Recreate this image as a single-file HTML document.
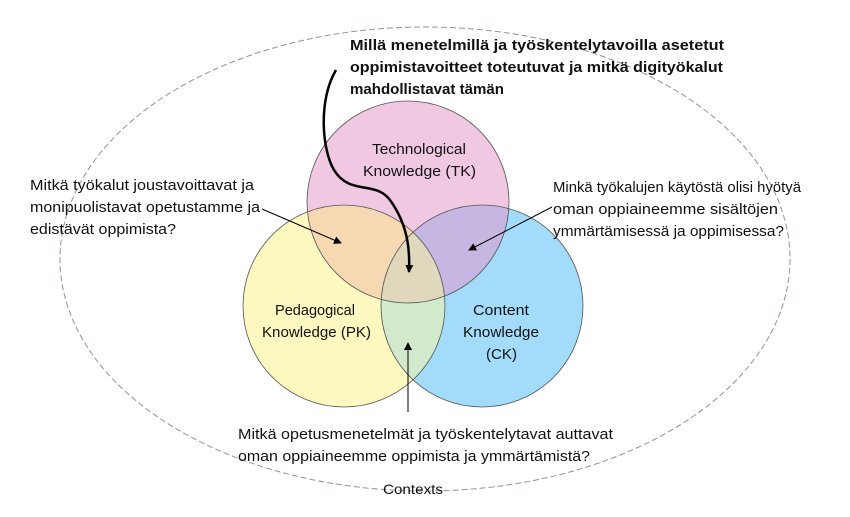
<!DOCTYPE html>
<html><head><meta charset="utf-8"><style>html,body{margin:0;padding:0;background:#fff}svg{display:block}text{font-family:"Liberation Sans",sans-serif;font-size:15px;fill:#111}</style></head>
<body>
<svg width="850" height="517" viewBox="0 0 850 517" xmlns="http://www.w3.org/2000/svg">
<defs>
<clipPath id="tk"><circle cx="408" cy="202" r="101"/></clipPath>
<clipPath id="pk"><circle cx="344" cy="306" r="101"/></clipPath>
<clipPath id="ck"><circle cx="482" cy="306" r="101"/></clipPath>
<marker id="ah" markerWidth="8" markerHeight="8" refX="7" refY="4" orient="auto" markerUnits="userSpaceOnUse"><path d="M0,0 L8,4 L0,8 z" fill="#000"/></marker>
</defs>
<ellipse cx="425" cy="259" rx="365" ry="232" fill="none" stroke="#8a94a8" stroke-width="1" stroke-dasharray="6,3"/>
<circle cx="408" cy="202" r="101" fill="#f0c8e2"/>
<circle cx="344" cy="306" r="101" fill="#fcf8c0"/>
<circle cx="482" cy="306" r="101" fill="#a2dcfa"/>
<g clip-path="url(#tk)"><circle cx="344" cy="306" r="101" fill="#f6d8b2"/><circle cx="482" cy="306" r="101" fill="#c6b6e2"/></g>
<g clip-path="url(#pk)"><circle cx="482" cy="306" r="101" fill="#d2eacc"/></g>
<g clip-path="url(#tk)"><g clip-path="url(#pk)"><circle cx="482" cy="306" r="101" fill="#dfd8bc"/></g></g>
<g fill="none" stroke="#555" stroke-width="0.8">
<circle cx="408" cy="202" r="101"/><circle cx="344" cy="306" r="101"/><circle cx="482" cy="306" r="101"/>
</g>
<path d="M336,70 C318,100 322,150 334,170 C350,196 375,180 390,200 C408,225 410,250 409,272" fill="none" stroke="#000" stroke-width="2.5" marker-end="url(#ah)"/>
<line x1="262" y1="209" x2="341" y2="243" stroke="#000" stroke-width="1" marker-end="url(#ah)"/>
<line x1="552" y1="207" x2="469" y2="250" stroke="#000" stroke-width="1" marker-end="url(#ah)"/>
<line x1="408" y1="412" x2="408" y2="343" stroke="#000" stroke-width="1" marker-end="url(#ah)"/>
<g style="font-weight:bold">
<text x="350" y="50" textLength="374" lengthAdjust="spacingAndGlyphs">Millä menetelmillä ja työskentelytavoilla asetetut</text>
<text x="350" y="72" textLength="373" lengthAdjust="spacingAndGlyphs">oppimistavoitteet toteutuvat ja mitkä digityökalut</text>
<text x="350" y="94" textLength="154" lengthAdjust="spacingAndGlyphs">mahdollistavat tämän</text>
</g>
<text x="372" y="154" textLength="94" lengthAdjust="spacingAndGlyphs">Technological</text>
<text x="363" y="176" textLength="113" lengthAdjust="spacingAndGlyphs">Knowledge (TK)</text>
<text x="275" y="315" textLength="80" lengthAdjust="spacingAndGlyphs">Pedagogical</text>
<text x="262" y="337" textLength="109" lengthAdjust="spacingAndGlyphs">Knowledge (PK)</text>
<text x="473" y="315" textLength="56" lengthAdjust="spacingAndGlyphs">Content</text>
<text x="463" y="337" textLength="76" lengthAdjust="spacingAndGlyphs">Knowledge</text>
<text x="486" y="359" textLength="31" lengthAdjust="spacingAndGlyphs">(CK)</text>
<text x="30" y="190" textLength="224" lengthAdjust="spacingAndGlyphs">Mitkä työkalut joustavoittavat ja</text>
<text x="30" y="212" textLength="230" lengthAdjust="spacingAndGlyphs">monipuolistavat opetustamme ja</text>
<text x="30" y="234" textLength="146" lengthAdjust="spacingAndGlyphs">edistävät oppimista?</text>
<text x="553" y="192" textLength="248" lengthAdjust="spacingAndGlyphs">Minkä työkalujen käytöstä olisi hyötyä</text>
<text x="553" y="214" textLength="225" lengthAdjust="spacingAndGlyphs">oman oppiaineemme sisältöjen</text>
<text x="553" y="236" textLength="231" lengthAdjust="spacingAndGlyphs">ymmärtämisessä ja oppimisessa?</text>
<text x="238" y="439" textLength="375" lengthAdjust="spacingAndGlyphs">Mitkä opetusmenetelmät ja työskentelytavat auttavat</text>
<text x="238" y="461" textLength="352" lengthAdjust="spacingAndGlyphs">oman oppiaineemme oppimista ja ymmärtämistä?</text>
<text x="383" y="494" textLength="60" lengthAdjust="spacingAndGlyphs" style="font-size:14px">Contexts</text>
</svg>
</body></html>
